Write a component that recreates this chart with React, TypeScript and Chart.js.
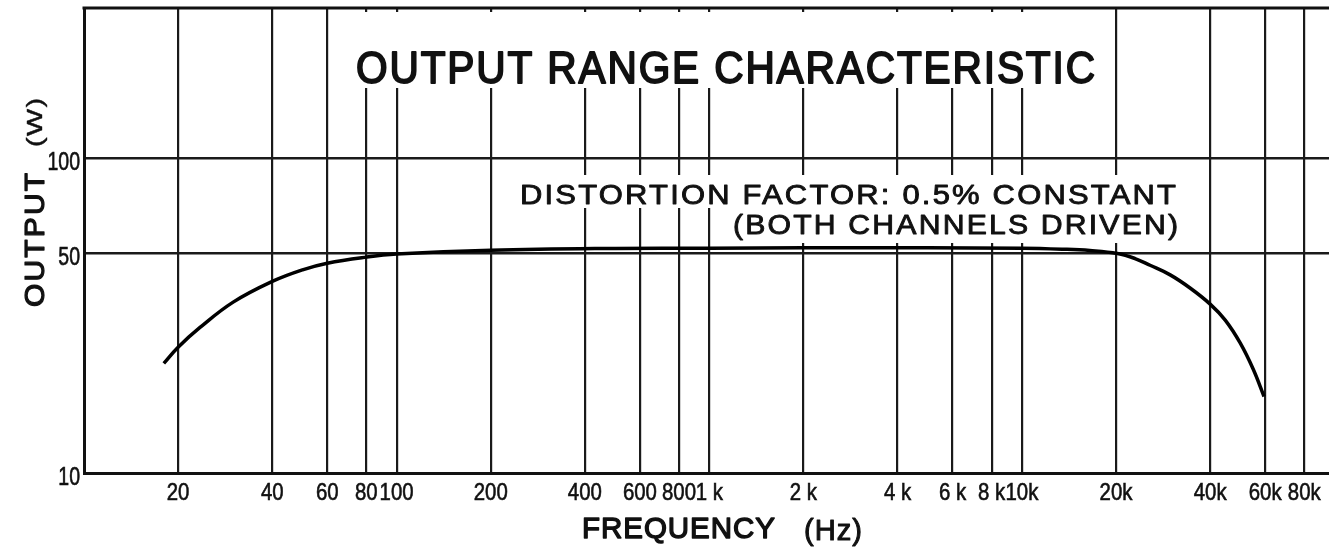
import { useEffect, useRef } from "react";
import { Chart, registerables } from "chart.js";

Chart.register(...registerables);

// Frequency (Hz) and output power (W)
const frequencies = [18, 20, 23.5, 30, 40, 50, 60, 80, 100, 200, 500, 1000, 2000, 5000, 10000, 13600, 16500, 20200, 23000, 25700, 29800, 34500, 40000, 44700, 49900, 54900, 59500];
const outputWatts = [22.3, 25.1, 29.0, 34.9, 40.6, 44.2, 46.4, 48.5, 49.6, 51.0, 51.7, 51.8, 51.9, 51.9, 51.8, 51.4, 50.9, 49.8, 48.0, 45.7, 42.6, 38.7, 34.4, 30.6, 25.9, 21.4, 17.5];

const xTickValues = [20, 40, 60, 80, 100, 200, 400, 600, 800, 1000, 2000, 4000, 6000, 8000, 10000, 20000, 40000, 60000, 80000];
const xTickLabels = ["20", "40", "60", "80", "100", "200", "400", "600", "800", "1 k", "2 k", "4 k", "6 k", "8 k", "10k", "20k", "40k", "60k", "80k"];
const yTickValues = [10, 50, 100];
const yTickLabels = ["10", "50", "100"];

const titleText = "OUTPUT RANGE CHARACTERISTIC";
const noteLine1 = "DISTORTION FACTOR: 0.5% CONSTANT";
const noteLine2 = "(BOTH CHANNELS DRIVEN)";
const xTitleMain = "FREQUENCY";
const xTitleUnit = "(Hz)";
const yTitleMain = "OUTPUT";
const yTitleUnit = "(W)";

const FONT = "'Liberation Sans', Arial, sans-serif";

// draws text with a fixed letter spacing, then stretches/squeezes it to span x1..x2
function drawFitted(ctx: CanvasRenderingContext2D, text: string, x1: number, x2: number, baseline: number, font: string, spacing: number, strokeW = 0) {
  ctx.save();
  ctx.font = font;
  (ctx as any).letterSpacing = spacing + "px";
  ctx.textAlign = "left";
  ctx.textBaseline = "alphabetic";
  const w = ctx.measureText(text).width - spacing;
  const target = x2 - x1;
  ctx.translate(x1, baseline);
  ctx.scale(target / w, 1);
  ctx.fillText(text, 0, 0);
  if (strokeW > 0) {
    ctx.lineWidth = strokeW;
    ctx.lineJoin = "round";
    ctx.strokeText(text, 0, 0);
  }
  ctx.restore();
}

function drawCondensed(ctx: CanvasRenderingContext2D, text: string, x: number, baseline: number, align: "center" | "right", font: string, sx: number) {
  ctx.save();
  ctx.font = font;
  ctx.textBaseline = "alphabetic";
  ctx.textAlign = align;
  ctx.translate(x, baseline);
  ctx.scale(sx, 1);
  ctx.fillText(text, 0, 0);
  ctx.lineWidth = 0.6;
  ctx.strokeText(text, 0, 0);
  ctx.restore();
}

const decorPlugin = {
  id: "decor",
  afterDraw(chart: any) {
    const ctx: CanvasRenderingContext2D = chart.ctx;
    const { left, right, top, bottom } = chart.chartArea;
    const xs = chart.scales.x;
    const ys = chart.scales.y;
    ctx.save();
    ctx.fillStyle = "#111";
    ctx.strokeStyle = "#111";

    // top border
    ctx.lineWidth = 3;
    ctx.beginPath();
    ctx.moveTo(left - 1.5, top);
    ctx.lineTo(right, top);
    ctx.stroke();

    // white boxes behind texts
    ctx.fillStyle = "#fff";
    ctx.fillRect(350, 12, 753, 76);
    ctx.fillRect(514, 175, 672, 33);
    ctx.fillRect(716, 207, 470, 36);

    ctx.fillStyle = "#111";
    ctx.strokeStyle = "#111";
    drawFitted(ctx, titleText, 356, 1095, 83, `44px ${FONT}`, 2, 1.8);
    drawFitted(ctx, noteLine1, 520, 1176, 204, `28px ${FONT}`, 2, 0.9);
    drawFitted(ctx, noteLine2, 733, 1178, 234, `28px ${FONT}`, 2, 0.9);

    // x title
    drawFitted(ctx, xTitleMain, 582, 775, 538, `30px ${FONT}`, 1, 1.4);
    drawFitted(ctx, xTitleUnit, 804, 862, 540, `29px ${FONT}`, 1, 1.0);

    // y title (rotated)
    ctx.save();
    ctx.translate(44, 307);
    ctx.rotate(-Math.PI / 2);
    drawFitted(ctx, yTitleMain, 0, 134, 0, `28px ${FONT}`, 2, 1.2);
    ctx.restore();
    ctx.save();
    ctx.translate(42, 147);
    ctx.rotate(-Math.PI / 2);
    drawFitted(ctx, yTitleUnit, 0, 49, 0, `22px ${FONT}`, 1, 0.4);
    ctx.restore();

    // tick labels
    xTickValues.forEach((v, i) => {
      const px = xs.getPixelForValue(v);
      drawCondensed(ctx, xTickLabels[i], px, bottom + 27, "center", `24px ${FONT}`, 0.85);
    });
    yTickValues.forEach((v, i) => {
      const py = ys.getPixelForValue(v);
      drawCondensed(ctx, yTickLabels[i], left - 4, py + 12, "right", `25px ${FONT}`, 0.78);
    });
    ctx.restore();
  },
};

export default function App() {
  const ref = useRef<HTMLCanvasElement | null>(null);
  useEffect(() => {
    if (!ref.current) return;
    const chart = new Chart(ref.current, {
      type: "line",
      data: {
        datasets: [
          {
            data: frequencies.map((f, i) => ({ x: f, y: outputWatts[i] })),
            borderColor: "#000",
            borderWidth: 3.5,
            pointRadius: 0,
            tension: 0.4,
            fill: false,
          },
        ],
      },
      options: {
        animation: false,
        responsive: false,
        devicePixelRatio: 1,
        layout: { padding: { top: 8, left: 0, right: 0, bottom: 0 } },
        plugins: { legend: { display: false }, tooltip: { enabled: false }, title: { display: false } },
        scales: {
          x: {
            type: "logarithmic",
            min: 10,
            max: 96000,
            afterBuildTicks: (s: any) => {
              s.ticks = xTickValues.map((v) => ({ value: v }));
            },
            afterFit: (s: any) => {
              s.height = 79;
            },
            ticks: { display: false },
            grid: { color: "#1a1a1a", lineWidth: 2.2, drawTicks: false },
            border: { color: "#111", width: 3 },
          },
          y: {
            type: "logarithmic",
            min: 10,
            max: 300,
            afterBuildTicks: (s: any) => {
              s.ticks = yTickValues.map((v) => ({ value: v }));
            },
            afterFit: (s: any) => {
              s.width = 84;
            },
            ticks: { display: false },
            grid: { color: "#1a1a1a", lineWidth: 2.5, drawTicks: false },
            border: { color: "#111", width: 3 },
          },
        },
      },
      plugins: [decorPlugin],
    } as any);
    return () => chart.destroy();
  }, []);
  return (
    <div style={{ position: "fixed", left: 0, top: 0, width: 1329, height: 552, background: "#fff" }}>
      <canvas ref={ref} width={1329} height={552} style={{ width: 1329, height: 552, display: "block" }} />
    </div>
  );
}
